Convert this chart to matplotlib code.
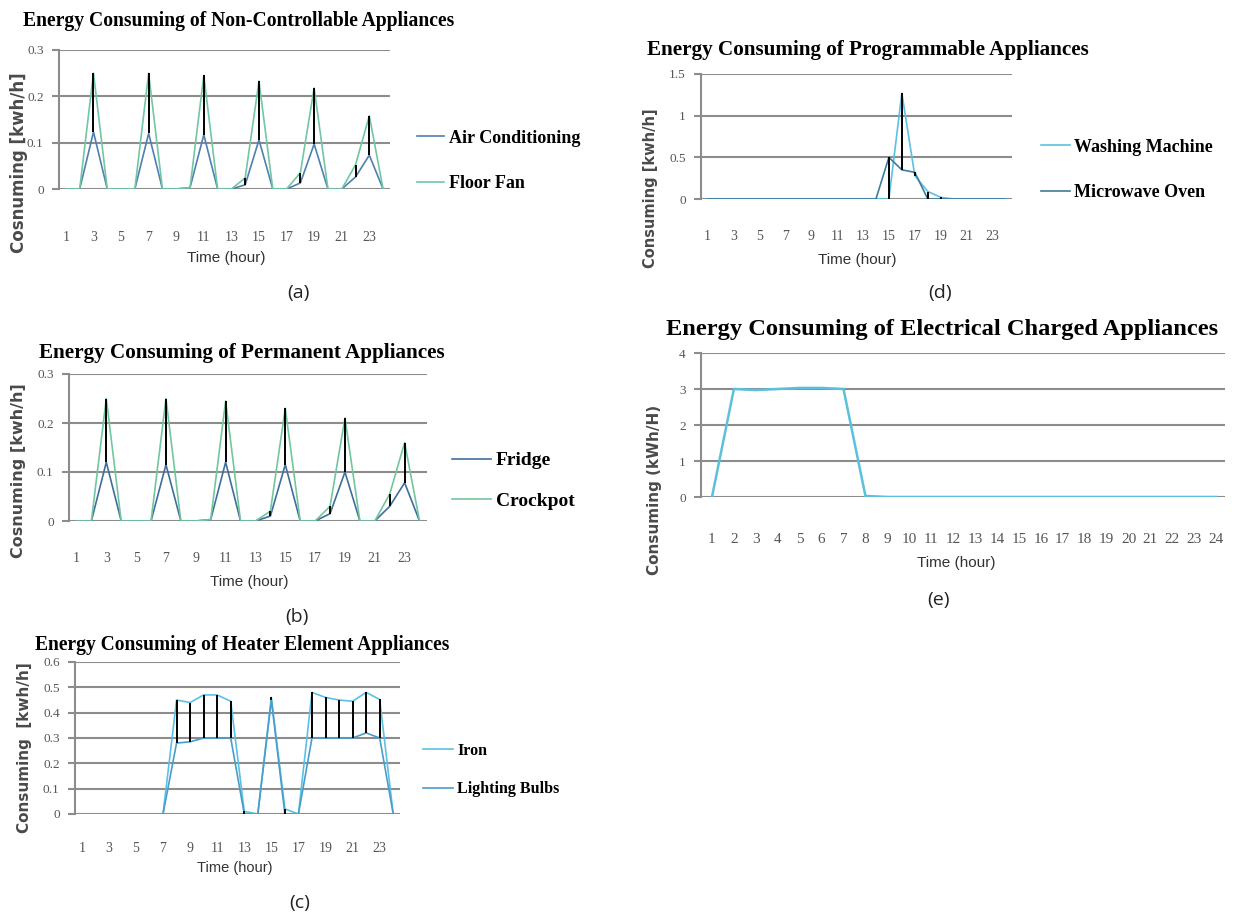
import matplotlib
matplotlib.use("Agg")
import matplotlib.pyplot as plt

W, H = 1244, 915

hours = list(range(1, 25))
odd_hours = [1, 3, 5, 7, 9, 11, 13, 15, 17, 19, 21, 23]

# (a) non-controllable appliances
air_cond = [0, 0, 0.123, 0, 0, 0, 0.12, 0, 0, 0.003, 0.117, 0,
            0, 0.009, 0.106, 0, 0, 0.013, 0.097, 0, 0, 0.026, 0.073, 0]
floor_fan = [0, 0, 0.25, 0, 0, 0, 0.25, 0, 0, 0.003, 0.245, 0,
             0, 0.024, 0.233, 0, 0, 0.035, 0.218, 0, 0, 0.052, 0.158, 0]

# (b) permanent appliances
fridge = [0, 0, 0.12, 0, 0, 0, 0.115, 0, 0, 0.003, 0.12, 0,
          0, 0.01, 0.115, 0, 0, 0.015, 0.10, 0, 0, 0.03, 0.078, 0]
crockpot = [0, 0, 0.25, 0, 0, 0, 0.25, 0, 0, 0.003, 0.245, 0,
            0, 0.02, 0.23, 0, 0, 0.03, 0.21, 0, 0, 0.055, 0.16, 0]

# (c) heater element appliances
iron = [0, 0, 0, 0, 0, 0, 0, 0.45, 0.44, 0.47, 0.47, 0.445,
        0.01, 0, 0.46, 0.02, 0, 0.48, 0.46, 0.45, 0.445, 0.48, 0.452, 0]
bulbs = [0, 0, 0, 0, 0, 0, 0, 0.28, 0.285, 0.30, 0.30, 0.30,
         0, 0, 0.45, 0, 0, 0.30, 0.30, 0.30, 0.30, 0.32, 0.30, 0]

# (d) programmable appliances
washing = [0, 0, 0, 0, 0, 0, 0, 0, 0, 0, 0, 0,
           0, 0, 0, 1.27, 0.28, 0.09, 0.02, 0, 0, 0, 0, 0]
microwave = [0, 0, 0, 0, 0, 0, 0, 0, 0, 0, 0, 0,
             0, 0, 0.5, 0.35, 0.32, 0, 0, 0, 0, 0, 0, 0]

# (e) electrical charged appliances
charging = [0, 3.0, 2.97, 3.0, 3.03, 3.03, 3.0, 0.03, 0, 0, 0, 0,
            0, 0, 0, 0, 0, 0, 0, 0, 0, 0, 0, 0]

GRID = "#8c8c8c"
SERIF = ["Liberation Serif", "DejaVu Serif"]
SANS = ["Liberation Sans", "DejaVu Sans"]

fig = plt.figure(figsize=(W / 100, H / 100), dpi=100)
renderer = fig.canvas.get_renderer()


def px_axes(left, right, top, bottom):
    return fig.add_axes([left / W, 1 - bottom / H, (right - left) / W, (bottom - top) / H])


def put(x, y, s, **kw):
    return fig.text(x / W, 1 - y / H, s, ha="center", va="center", **kw)


def put_fit(x0, x1, y, s, **kw):
    # title drawn so that it spans x0..x1 pixels
    t = put((x0 + x1) / 2, y, s, fontsize=12, **kw)
    w = t.get_window_extent(renderer).width
    t.set_fontsize(12 * (x1 - x0) / w)
    return t


def style(ax, ylim, yticks, ylabels, xticks, xlim, xpad, xsize=10):
    ax.set_xlim(*xlim)
    ax.set_ylim(*ylim)
    ax.set_yticks(yticks)
    ax.set_yticklabels(ylabels)
    ax.set_xticks(xticks)
    ax.set_xticklabels([str(h) for h in xticks])
    ax.yaxis.grid(True, color=GRID, lw=1.5)
    ax.set_axisbelow(True)
    for s in ["top", "right", "bottom"]:
        ax.spines[s].set_visible(False)
    ax.spines["left"].set_color(GRID)
    ax.spines["left"].set_linewidth(1.5)
    ax.tick_params(axis="y", length=5, width=1.5, color=GRID, pad=6,
                   labelsize=9.5, labelcolor="#555555")
    ax.tick_params(axis="x", length=0, pad=xpad, labelsize=xsize, labelcolor="#555555")
    for lab in ax.get_xticklabels() + ax.get_yticklabels():
        lab.set_family(SERIF)


def two_series(ax, s1, s2, c1, c2, names, leg_x, leg_y, fs, hlen, spacing):
    lo = [min(p, q) for p, q in zip(s1, s2)]
    hi = [max(p, q) for p, q in zip(s1, s2)]
    ax.vlines(hours, lo, hi, color="black", lw=1.4, zorder=3)
    ax.plot(hours, s1, color=c1, lw=1.2, label=names[0], zorder=2)
    ax.plot(hours, s2, color=c2, lw=1.2, label=names[1], zorder=2)
    ax.legend(loc="center left", bbox_to_anchor=(leg_x / W, 1 - leg_y / H),
              bbox_transform=fig.transFigure, frameon=False, borderpad=0,
              borderaxespad=0, handlelength=hlen, handletextpad=0.25,
              labelspacing=spacing, prop={"family": SERIF, "weight": "bold", "size": fs})


# ---- (a)
ax = px_axes(59, 390, 50, 189)
style(ax, (0, 0.3), [0, 0.1, 0.2, 0.3], ["0", "0.1", "0.2", "0.3"], odd_hours, (0.5, 24.5), 30)
two_series(ax, air_cond, floor_fan, "#4f7fb3", "#72c6a2",
           ["Air Conditioning", "Floor Fan"], 417, 161, 13, 1.5, 1.6)
put_fit(25, 453, 21, "Energy Consuming of Non-Controllable Appliances", family=SERIF, weight="bold")
put(19, 163, "Cosnuming [kwh/h]", rotation=90, fontsize=12, weight="bold", color="#4a4a4a")
put(226, 258, "Time (hour)", fontsize=11, family=SANS, color="#333333")
put(298, 293, "(a)", fontsize=14, family="Open Sans", color="#222222")

# ---- (b)
ax = px_axes(69, 427, 374, 521)
style(ax, (0, 0.3), [0, 0.1, 0.2, 0.3], ["0", "0.1", "0.2", "0.3"], odd_hours, (0.5, 24.5), 22)
two_series(ax, fridge, crockpot, "#3f6e9c", "#72c69e",
           ["Fridge", "Crockpot"], 452, 481, 14, 2.0, 1.2)
put_fit(40, 444, 353, "Energy Consuming of Permanent Appliances", family=SERIF, weight="bold")
put(19, 471, "Cosnuming [kwh/h]", rotation=90, fontsize=11.5, weight="bold", color="#4a4a4a")
put(249, 582, "Time (hour)", fontsize=11, family=SANS, color="#333333")
put(297, 617, "(b)", fontsize=14, family="Open Sans", color="#222222")

# ---- (c)
ax = px_axes(75, 400, 662, 814)
style(ax, (0, 0.6), [0, 0.1, 0.2, 0.3, 0.4, 0.5, 0.6],
      ["0", "0.1", "0.2", "0.3", "0.4", "0.5", "0.6"], odd_hours, (0.5, 24.5), 20)
two_series(ax, iron, bulbs, "#5cc0e6", "#4a9ccb",
           ["Iron", "Lighting Bulbs"], 423, 770, 11.5, 1.9, 1.4)
put_fit(36, 448, 645, "Energy Consuming of Heater Element Appliances", family=SERIF, weight="bold")
put(25, 748, "Consuming  [kwh/h]", rotation=90, fontsize=11, weight="bold", color="#4a4a4a")
put(235, 868, "Time (hour)", fontsize=10.5, family=SANS, color="#333333")
put(300, 903, "(c)", fontsize=14, family="Open Sans", color="#222222")

# ---- (d)
ax = px_axes(701, 1012, 74, 199)
style(ax, (0, 1.5), [0, 0.5, 1, 1.5], ["0", "0.5", "1", "1.5"], odd_hours, (0.5, 24.5), 22)
two_series(ax, washing, microwave, "#5cc0e0", "#3f7c9e",
           ["Washing Machine", "Microwave Oven"], 1041, 170, 13, 1.6, 1.6)
put_fit(648, 1087, 50, "Energy Consuming of Programmable Appliances", family=SERIF, weight="bold")
put(650, 188, "Consuming [kwh/h]", rotation=90, fontsize=10.5, weight="bold", color="#4a4a4a")
put(857, 260, "Time (hour)", fontsize=11, family=SANS, color="#333333")
put(940, 293, "(d)", fontsize=14, family="Open Sans", color="#222222")

# ---- (e)
ax = px_axes(701, 1225, 353, 497)
style(ax, (0, 4), [0, 1, 2, 3, 4], ["0", "1", "2", "3", "4"], hours, (0.5, 24.4), 26, xsize=11)
ax.plot(hours, charging, color="#5cc0dc", lw=1.8)
put_fit(669, 1215, 330, "Energy Consuming of Electrical Charged Appliances", family=SERIF, weight="bold")
put(654, 490, "Consuming (kWh/H)", rotation=90, fontsize=11, weight="bold", color="#4a4a4a")
put(956, 563, "Time (hour)", fontsize=11, family=SANS, color="#333333")
put(938, 600, "(e)", fontsize=14, family="Open Sans", color="#222222")

fig.savefig("out.png", dpi=100, facecolor="white")
